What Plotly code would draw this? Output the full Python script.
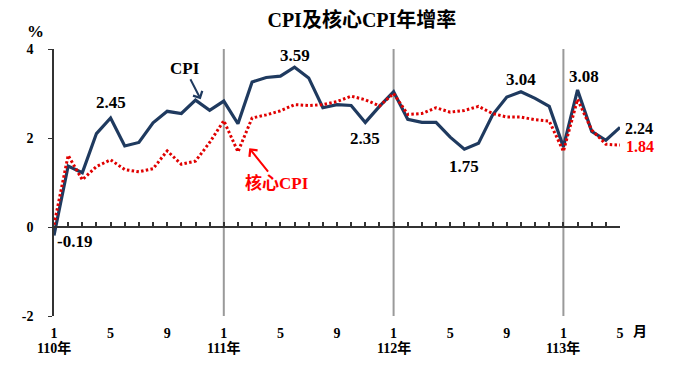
import plotly.graph_objects as go

# ---- data ----
years = ["110", "111", "112", "113"]
month_nums = list(range(1, 13)) * 3 + [1, 2, 3, 4, 5]
year_of = ["110"] * 12 + ["111"] * 12 + ["112"] * 12 + ["113"] * 5

cpi = [-0.19, 1.37, 1.22, 2.10, 2.45, 1.82, 1.90, 2.34, 2.60, 2.55, 2.85, 2.62,
       2.83, 2.32, 3.26, 3.36, 3.39, 3.59, 3.35, 2.68, 2.75, 2.73, 2.35, 2.71,
       3.04, 2.42, 2.35, 2.35, 2.02, 1.75, 1.88, 2.52, 2.92, 3.04, 2.89, 2.71,
       1.80, 3.08, 2.15, 1.95, 2.24]
core = [0.05, 1.61, 1.06, 1.36, 1.51, 1.29, 1.24, 1.31, 1.71, 1.41, 1.48, 1.90,
        2.39, 1.69, 2.45, 2.52, 2.61, 2.75, 2.73, 2.75, 2.82, 2.94, 2.86, 2.72,
        3.00, 2.53, 2.55, 2.68, 2.58, 2.62, 2.71, 2.55, 2.47, 2.47, 2.41, 2.38,
        1.70, 2.87, 2.18, 1.86, 1.84]
y_ticks = [-2, 0, 2, 4]
y_ticktext = ["-2", "0", "2", "4"]

idx = list(range(len(cpi)))
last = len(cpi) - 1

# tick labels at months 1, 5, 9
tickvals = [i for i in idx if month_nums[i] in (1, 5, 9)]
ticktext = [str(month_nums[i]) for i in tickvals]
year_start_idx = [i for i in idx if month_nums[i] == 1]

SERIF = "Liberation Serif, Times New Roman, Noto Sans CJK TC, serif"
NAVY = "#1F3A5F"
RED = "#E00000"

fig = go.Figure()
fig.add_trace(go.Scatter(x=idx, y=cpi, mode="lines", line=dict(color=NAVY, width=3.2),
                         name="CPI", hoverinfo="skip"))
fig.add_trace(go.Scatter(x=idx, y=core, mode="lines", line=dict(color=RED, width=3, dash="2.5px,2.3px"),
                         name="核心CPI", xaxis="x2", hoverinfo="skip"))

for i in year_start_idx:
    if i > 0:
        fig.add_shape(type="line", x0=i, x1=i, y0=0, y1=1, xref="x", yref="paper",
                      line=dict(color="#9A9A9A", width=2), layer="below")
    fig.add_annotation(x=i, y=0, yref="paper", text=f"{year_of[i]}年", showarrow=False,
                       yanchor="middle", yshift=-32,
                       font=dict(family=SERIF, size=14, color="black", weight="bold"))

def lab(i, val, text, xs=0, ys=0, color="black", xanchor="center", size=17):
    fig.add_annotation(x=i, y=val, text=text, showarrow=False, xshift=xs, yshift=ys,
                       xanchor=xanchor,
                       font=dict(family=SERIF, size=size, color=color, weight="bold"))

lab(0, cpi[0], "-0.19", xs=1, ys=-6, xanchor="left")
lab(4, cpi[4], "2.45", ys=15)
lab(17, cpi[17], "3.59", ys=12)
lab(22, cpi[22], "2.35", ys=-16)
lab(29, cpi[29], "1.75", ys=-17)
lab(33, cpi[33], "3.04", ys=12)
lab(37, cpi[37], "3.08", xs=6, ys=13)
lab(last, cpi[last], "2.24", xs=3, ys=-1, xanchor="left", size=16)
lab(last, core[last], "1.84", xs=4, ys=-1, color="#FF0000", xanchor="left", size=16)

# series name callouts
fig.add_annotation(x=10.37, y=2.87, text="CPI", showarrow=True, ax=-16, ay=-31,
                   arrowhead=4, arrowsize=1, arrowwidth=2, arrowcolor=NAVY,
                   font=dict(family=SERIF, size=17, color="black", weight="bold"))
fig.add_annotation(x=13.8, y=1.77, text="核心CPI", showarrow=True, ax=28, ay=35,
                   arrowhead=4, arrowsize=1, arrowwidth=2, arrowcolor="#FF0000",
                   font=dict(family=SERIF, size=17, color="#FF0000", weight="bold"))

fig.add_annotation(x=0, y=1, xref="paper", yref="paper", text="%", showarrow=False,
                   xanchor="center", yanchor="middle", xshift=-19, yshift=18,
                   font=dict(family=SERIF, size=17, color="black", weight="bold"))
fig.add_annotation(x=1, y=0, xref="paper", yref="paper", text="月", showarrow=False,
                   xanchor="center", yanchor="middle", xshift=20, yshift=-15,
                   font=dict(family=SERIF, size=14, color="black", weight="bold"))

fig.update_layout(
    width=673, height=378,
    margin=dict(l=54, r=53, t=49, b=62),
    paper_bgcolor="white", plot_bgcolor="white",
    showlegend=False,
    title=dict(text="CPI及核心CPI年增率", xref="paper", x=0.544, xanchor="center",
               yref="container", y=1 - 20 / 378, yanchor="middle",
               font=dict(family=SERIF, size=20, color="black", weight="bold")),
    xaxis=dict(range=[0, last], tickvals=tickvals, ticktext=ticktext, showline=False,
               ticks="", showgrid=False, zeroline=False, ticklabelstandoff=7,
               tickfont=dict(family=SERIF, size=14, color="black", weight="bold")),
    xaxis2=dict(range=[0, last], overlaying="x", anchor="free", position=1 / 3,
                showline=True, linecolor="#333333", linewidth=2, ticks="inside",
                ticklen=4, tickwidth=1.5, tickcolor="#333333", tick0=0, dtick=1,
                showticklabels=False, showgrid=False, zeroline=False),
    yaxis=dict(range=[-2, 4], tickvals=y_ticks, ticktext=y_ticktext, showline=True,
               linecolor="#333333", linewidth=1.5, ticks="outside", ticklen=4,
               tickcolor="#333333", showgrid=False, zeroline=False, ticklabelstandoff=12,
               tickfont=dict(family=SERIF, size=14, color="black", weight="bold")),
)

fig.write_html("out.html", post_script="document.body.style.margin='0';",
               config={"displayModeBar": False})
